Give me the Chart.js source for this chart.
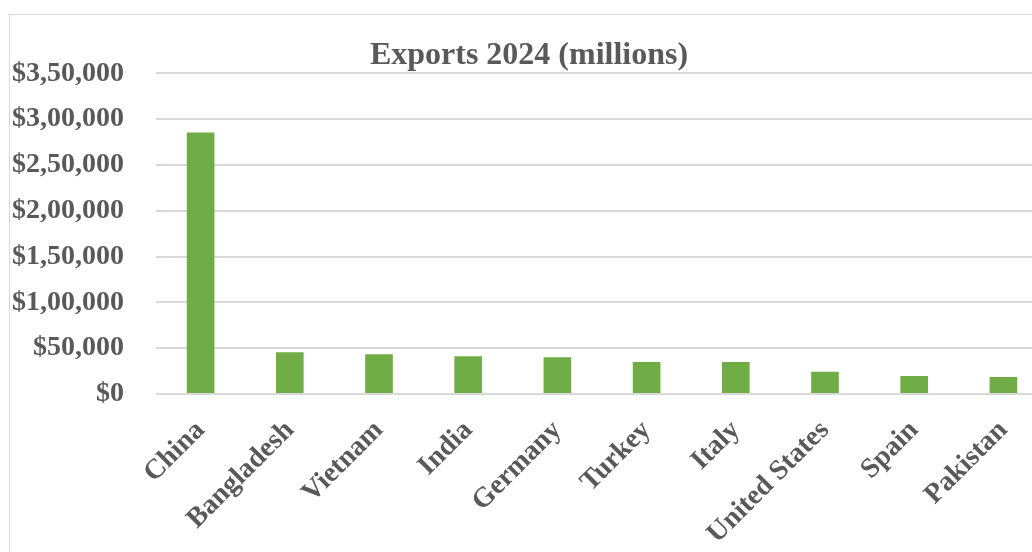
<!DOCTYPE html>
<html>
<head>
<meta charset="utf-8">
<script src="https://cdn.jsdelivr.net/npm/chart.js@4"></script>
<style>
  body { margin: 0; background: #fff; overflow: hidden; width: 1032px; height: 552px; }
  #box { position: absolute; left: 9px; top: 14px; width: 1060px; height: 560px;
         border: 1px solid #d9d9d9; background: #fff; }
  #wrap { position: absolute; left: 0; top: 0; width: 1040px; height: 540px; }
</style>
</head>
<body>
<div id="box"><div id="wrap"><canvas id="myChart"></canvas></div></div>
<script>
// data
const countries = ['China', 'Bangladesh', 'Vietnam', 'India', 'Germany', 'Turkey', 'Italy', 'United States', 'Spain', 'Pakistan'];
const exports2024 = [285600, 45500, 43300, 41100, 40000, 34900, 34900, 24300, 19600, 18500];
const yMax = 350000;
const yStep = 50000;

// Indian style grouping: 3,50,000
function indianFormat(n) {
  const s = String(Math.round(n));
  if (s.length <= 3) return s;
  const last3 = s.slice(-3);
  let rest = s.slice(0, -3);
  const parts = [];
  while (rest.length > 2) {
    parts.unshift(rest.slice(-2));
    rest = rest.slice(0, -2);
  }
  if (rest.length) parts.unshift(rest);
  return parts.join(',') + ',' + last3;
}

const textColor = '#595959';
const gridColor = '#d9d9d9';
const serif = "'Liberation Serif', 'Times New Roman', serif";

const ctx = document.getElementById('myChart').getContext('2d');

const myChart = new Chart(ctx, {
  type: 'bar',
  data: {
    labels: countries,
    datasets: [{
      label: 'Exports 2024',
      data: exports2024,
      backgroundColor: '#70AD47',
      categoryPercentage: 1,
      barPercentage: 0.31
    }]
  },
  options: {
    responsive: true,
    maintainAspectRatio: false,
    animation: false,
    layout: { padding: { left: 0, right: 2, top: 0, bottom: 0 } },
    plugins: {
      legend: { display: false },
      tooltip: { enabled: false },
      title: {
        display: true,
        text: 'Exports 2024 (millions)',
        color: textColor,
        font: { family: serif, size: 32, weight: 'bold' },
        padding: { top: 22, bottom: -2 }
      }
    },
    scales: {
      x: {
        grid: { display: false },
        border: { display: false },
        ticks: {
          color: textColor,
          font: { family: serif, size: 28, weight: 'bold' },
          minRotation: 45,
          maxRotation: 45,
          padding: 12
        },
        afterFit: s => { s.paddingLeft = 0; s.paddingRight = 0; s.height = 161; }
      },
      y: {
        min: 0,
        max: yMax,
        border: { display: false },
        grid: { color: gridColor, lineWidth: 2, drawTicks: false },
        ticks: {
          stepSize: yStep,
          color: textColor,
          font: { family: serif, size: 28, weight: 'bold' },
          padding: 32,
          callback: v => '$' + indianFormat(v)
        },
        afterFit: s => { s.width = 146; s.paddingTop = 0; }
      }
    }
  }
});
</script>
</body>
</html>
